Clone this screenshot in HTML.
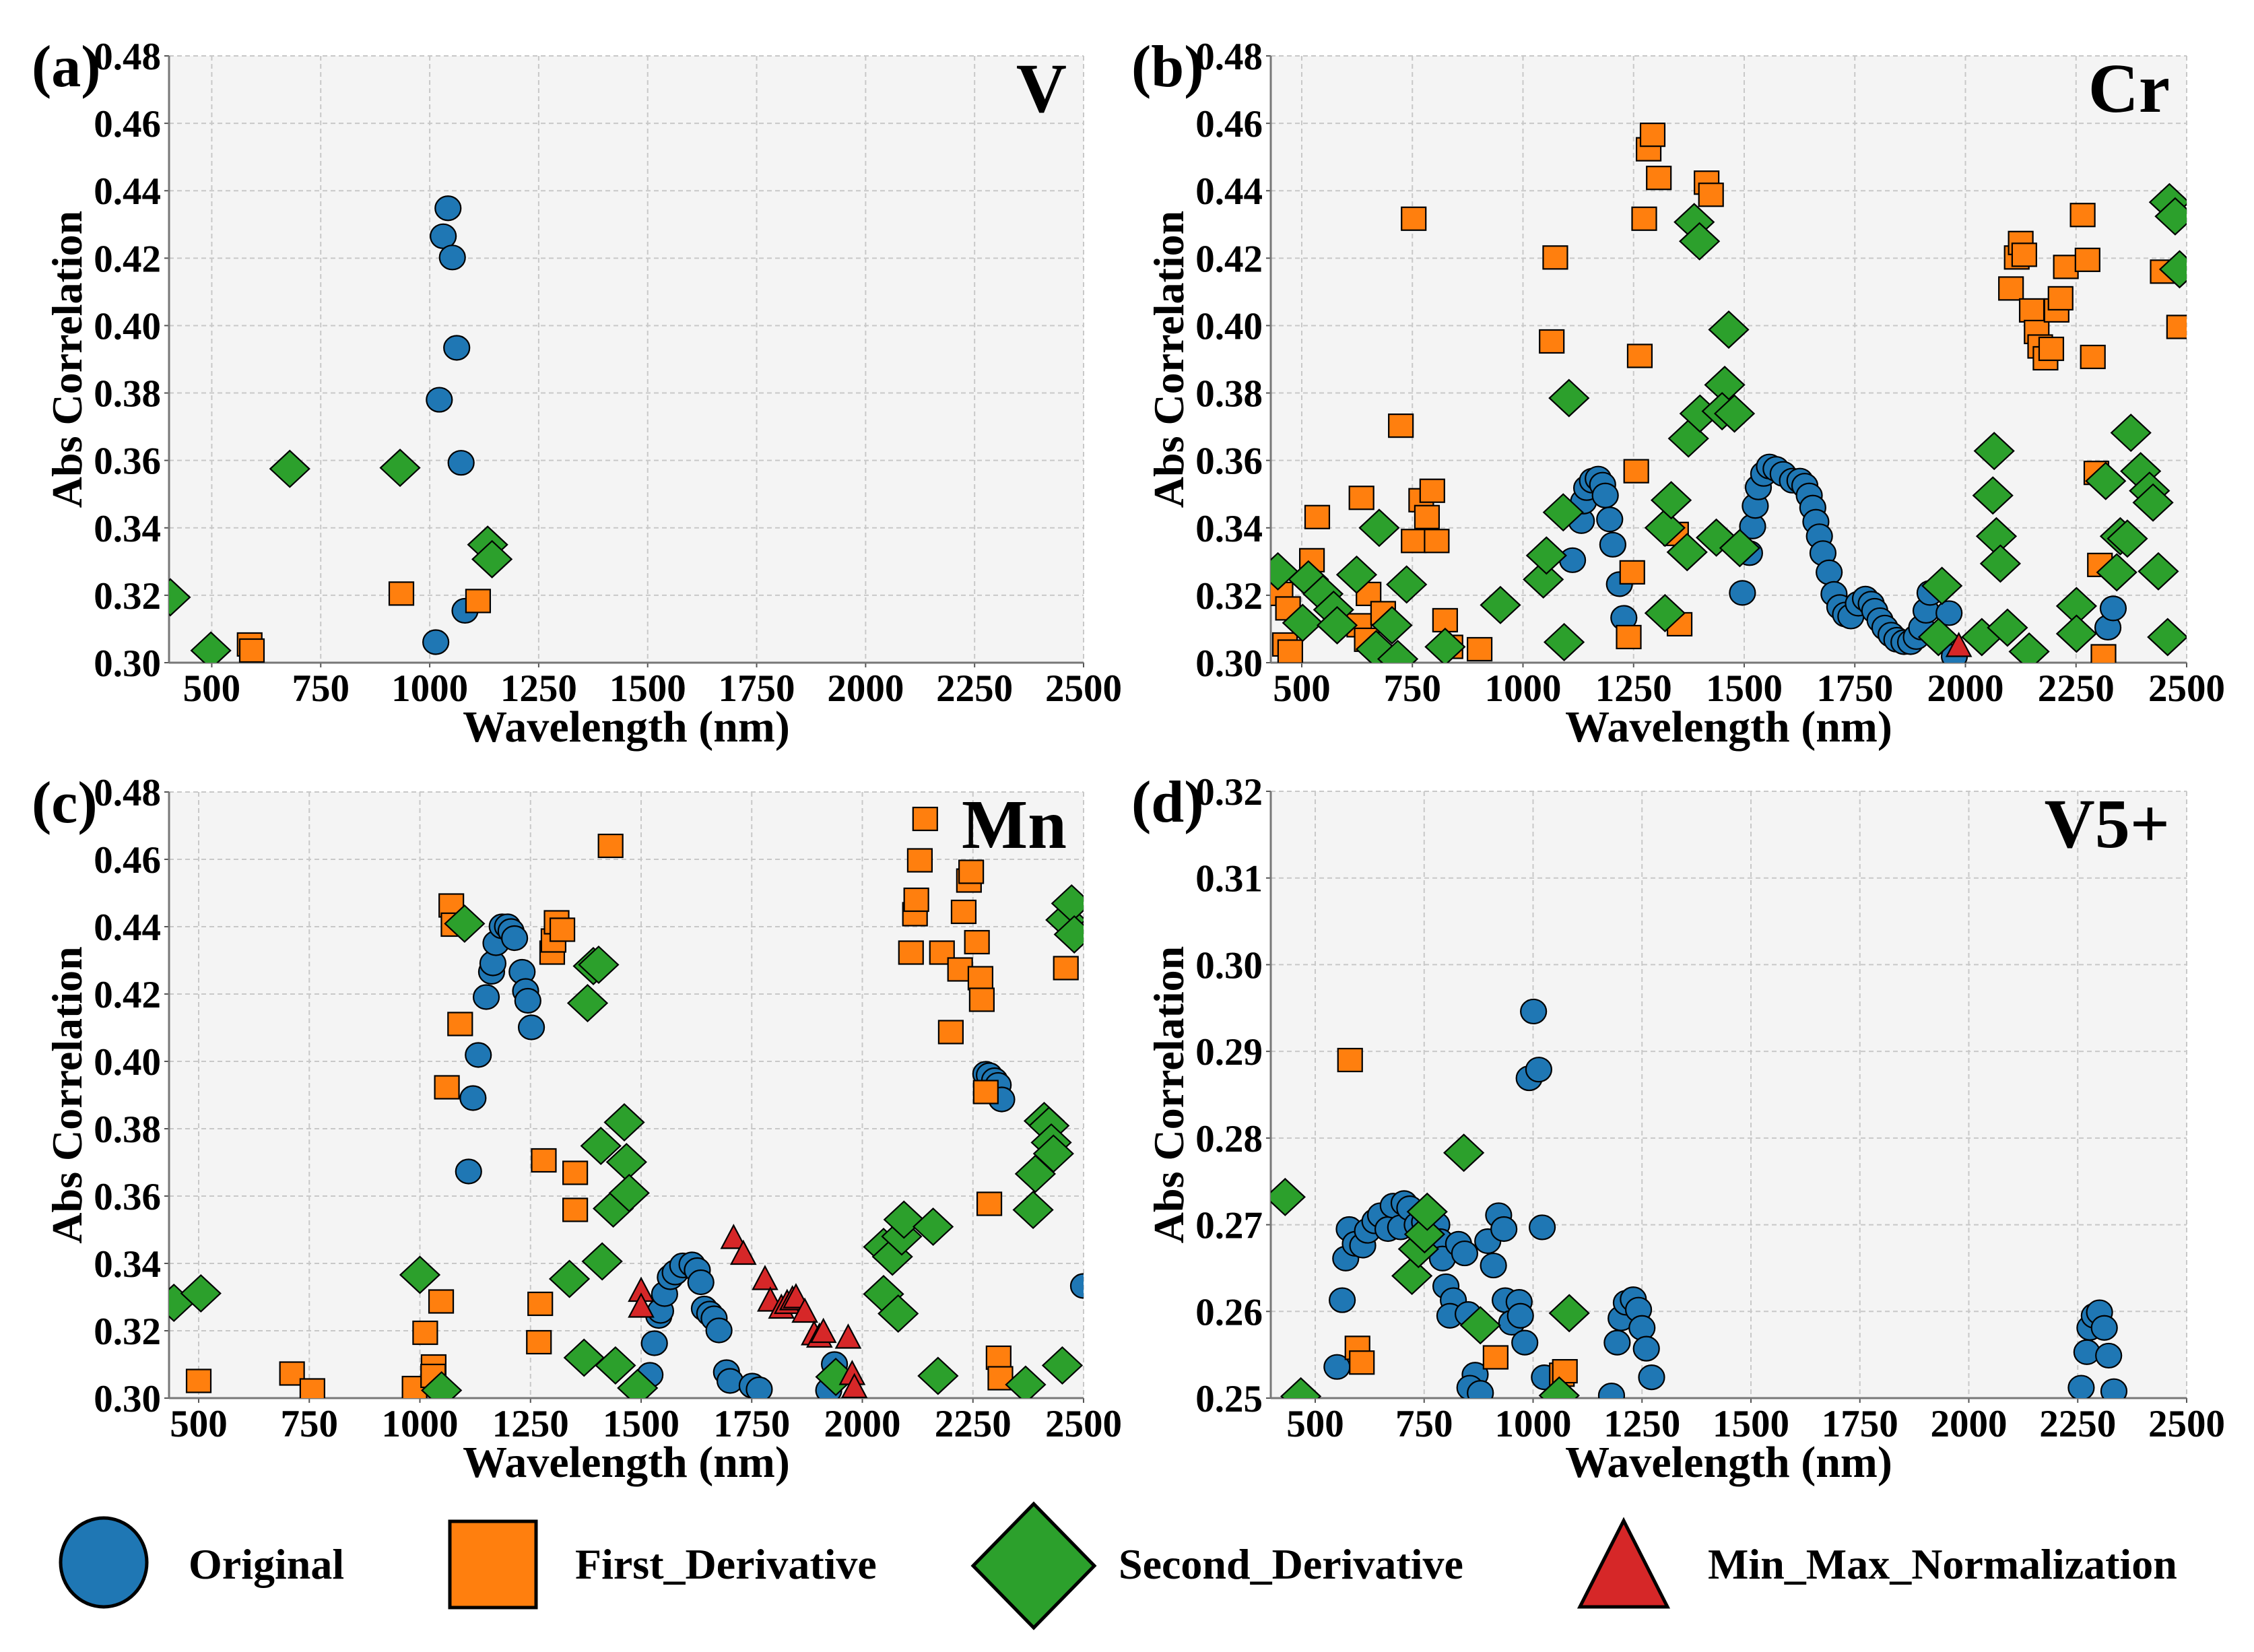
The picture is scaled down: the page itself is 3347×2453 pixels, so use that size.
<!DOCTYPE html>
<html><head><meta charset="utf-8"><style>
html,body{margin:0;padding:0;background:#fff;}
svg{display:block;}
svg text{font-family:"Liberation Serif","DejaVu Serif",serif;font-weight:bold;fill:#000;}
</style></head><body>
<svg id="fig" width="3347" height="2453" viewBox="0 0 3347 2453" xmlns="http://www.w3.org/2000/svg"></svg>
<script>
// ---------- DATA: Panel (a) V ----------
const aOrigX=[1042,1031,1052,1062,1022,1072,1081,1014];
const aOrigY=[0.4348,0.4265,0.4202,0.3934,0.378,0.3593,0.3154,0.3061];
const aFirstX=[935,1111,587,592];
const aFirstY=[0.3205,0.3183,0.3054,0.3036];
const aSecondX=[405,498,679,932,1133,1143];
const aSecondY=[0.3194,0.3036,0.3575,0.3578,0.335,0.3307];
const aMinMaxX=[];
const aMinMaxY=[];
// ---------- DATA: Panel (b) Cr ----------
const bOrigX=[1112,1132,1137,1144,1157,1170,1180,1186,1196,1203,1218,1228,1496,1512,1519,1525,1532,1544,1557,1572,1588,1609,1626,1637,1647,1655,1662,1670,1678,1692,1703,1716,1729,1741,1758,1774,1787,1795,1807,1818,1832,1845,1861,1876,1889,1901,1911,1920,1947,1963,1975,2322,2334];
const bOrigY=[0.3304,0.342,0.3478,0.3518,0.354,0.3546,0.3528,0.3496,0.3425,0.335,0.3233,0.3133,0.3207,0.3325,0.3404,0.3465,0.352,0.356,0.3582,0.3575,0.356,0.354,0.354,0.3525,0.3496,0.346,0.3418,0.3375,0.3325,0.3268,0.3204,0.3165,0.3143,0.3137,0.3175,0.319,0.3175,0.3154,0.3126,0.3104,0.3083,0.3068,0.3061,0.3061,0.3076,0.3104,0.3154,0.3207,0.3228,0.3147,0.3019,0.3104,0.3161];
const bFirstX=[452,469,462,474,523,535,630,635,651,647,684,724,753,753,770,783,795,805,824,836,902,1065,1073,1247,1256,1239,1264,1274,1284,1293,1307,1346,1354,1415,1425,2103,2116,2125,2133,2150,2161,2169,2181,2194,2206,2215,2227,2265,2276,2288,2296,2304,2312,2446,2483];
const bFirstY=[0.3204,0.3161,0.3054,0.3033,0.3304,0.3432,0.3111,0.3489,0.3204,0.3068,0.3147,0.3703,0.4317,0.3361,0.3482,0.3432,0.351,0.3361,0.3126,0.3047,0.304,0.3953,0.4202,0.3268,0.3568,0.3076,0.391,0.4317,0.4523,0.4566,0.4438,0.3382,0.3114,0.4424,0.4388,0.411,0.4202,0.4245,0.421,0.4045,0.3981,0.3938,0.3903,0.3931,0.4045,0.4081,0.4174,0.4328,0.4195,0.3907,0.3563,0.329,0.3019,0.416,0.3996];
const bSecondX=[446,515,502,548,572,580,624,675,668,704,717,737,824,949,1046,1053,1091,1104,1093,1321,1335,1321,1371,1374,1400,1387,1399,1437,1456,1465,1450,1478,1490,1939,1947,2037,2062,2065,2070,2079,2095,2144,2251,2251,2342,2317,2350,2366,2374,2396,2416,2424,2436,2457,2461,2474,2484];
const bSecondY=[0.3271,0.3247,0.3118,0.3204,0.3157,0.3111,0.3261,0.34,0.304,0.3111,0.3011,0.3232,0.3047,0.3171,0.3247,0.3318,0.3446,0.3785,0.3061,0.34,0.3482,0.3147,0.3328,0.3665,0.3739,0.4307,0.425,0.3371,0.3824,0.3988,0.3746,0.3739,0.334,0.3076,0.3228,0.3076,0.3496,0.3628,0.3375,0.3294,0.3104,0.3033,0.3168,0.3086,0.3268,0.3539,0.3375,0.3368,0.3682,0.3568,0.351,0.3475,0.3271,0.3076,0.4366,0.4324,0.4167];
const bMinMaxX=[1985];
const bMinMaxY=[0.3047];
// ---------- DATA: Panel (c) Mn ----------
const cOrigX=[2500,1110,1120,1132,1150,1162,1165,1172,1186,1198,1206,1214,1231,1239,1244,1252,1520,1530,1540,1544,1553,1566,1577,1594,1615,1627,1635,1643,1655,1665,1676,1693,1701,1751,1767,1924,1937,2279,2287,2299,2307,2315];
const cOrigY=[0.3333,0.3673,0.3891,0.4019,0.4191,0.4266,0.4291,0.4351,0.4401,0.4401,0.4387,0.4366,0.4266,0.4209,0.418,0.4101,0.3069,0.3163,0.3244,0.3259,0.3309,0.3359,0.3373,0.3394,0.3397,0.338,0.3344,0.3266,0.3251,0.3237,0.3201,0.3077,0.3051,0.3037,0.3026,0.3023,0.3101,0.3963,0.3959,0.3944,0.393,0.3887];
const cFirstX=[500,711,757,988,1031,1030,1012,1048,1061,1071,1076,1091,1269,1272,1280,1299,1302,1309,1322,1351,1351,1431,2110,2119,2122,2130,2142,2180,2200,2221,2229,2241,2246,2259,2267,2270,2279,2287,2308,2312,2460];
const cFirstY=[0.3051,0.3073,0.3023,0.303,0.3094,0.3066,0.3194,0.3287,0.3923,0.4463,0.4406,0.4111,0.3166,0.328,0.3706,0.4323,0.4359,0.4413,0.4391,0.3669,0.3559,0.464,0.4323,0.4437,0.448,0.4597,0.472,0.4323,0.4087,0.4273,0.4444,0.4537,0.4563,0.4354,0.4247,0.4183,0.3909,0.3577,0.312,0.3059,0.4277];
const cSecondX=[444,505,1000,1049,1101,1338,1371,1379,1392,1404,1409,1412,1437,1442,1462,1467,1473,1492,1940,2048,2048,2068,2081,2089,2094,2160,2171,2369,2386,2391,2411,2422,2427,2432,2452,2460,2473,2479];
const cSecondY=[0.3283,0.3311,0.3366,0.3023,0.4409,0.3354,0.312,0.4173,0.4283,0.4287,0.3749,0.3406,0.3563,0.3097,0.3819,0.3701,0.3609,0.303,0.3063,0.3449,0.3309,0.342,0.3251,0.348,0.353,0.3509,0.3066,0.304,0.3559,0.3666,0.3823,0.3809,0.3759,0.3726,0.3097,0.442,0.4469,0.4377];
const cMinMaxX=[1500,1500,1709,1731,1780,1792,1817,1830,1842,1850,1870,1891,1903,1912,1968,1977,1982];
const cMinMaxY=[0.3316,0.3269,0.3473,0.3426,0.3351,0.3287,0.3266,0.328,0.3291,0.3297,0.3254,0.3187,0.318,0.3194,0.3177,0.3069,0.303];
// ---------- DATA: Panel (d) V5+ ----------
const dOrigX=[550,562,570,578,592,609,620,637,650,667,679,696,704,717,734,751,779,787,792,800,817,809,829,843,851,867,855,879,896,909,921,933,936,951,968,971,981,991,1001,1013,1021,1026,1180,1193,1202,1214,1230,1242,1250,1260,1272,2258,2271,2278,2288,2300,2311,2321,2333];
const dOrigY=[0.2536,0.2613,0.2661,0.2695,0.2678,0.2676,0.2693,0.2704,0.2711,0.2695,0.2722,0.2697,0.2725,0.2719,0.27,0.2703,0.27,0.2681,0.2661,0.2629,0.2613,0.2595,0.2678,0.2667,0.2597,0.2527,0.2512,0.2506,0.2681,0.2653,0.2711,0.2695,0.2613,0.2587,0.2611,0.2595,0.2564,0.2869,0.2946,0.2879,0.2697,0.2524,0.2503,0.2564,0.2592,0.261,0.2614,0.2602,0.2581,0.2557,0.2524,0.2512,0.2553,0.2581,0.2595,0.2599,0.2581,0.2549,0.2508];
const dFirstX=[580,597,607,914,1066,1073];
const dFirstY=[0.289,0.2558,0.2541,0.2547,0.2527,0.2531];
const dSecondX=[431,467,722,737,751,757,841,879,1060,1083];
const dSecondY=[0.2732,0.2502,0.2641,0.2672,0.2689,0.2715,0.2783,0.2584,0.2503,0.2598];
const dMinMaxX=[];
const dMinMaxY=[];
// ---------- tick labels ----------
const xTicks=[500,750,1000,1250,1500,1750,2000,2250,2500];
const yTicksMain=[0.30,0.32,0.34,0.36,0.38,0.40,0.42,0.44,0.46,0.48];
const yTicksV5=[0.25,0.26,0.27,0.28,0.29,0.30,0.31,0.32];

const NS='http://www.w3.org/2000/svg';
const FONT='Liberation Serif, DejaVu Serif, serif';
const svg=document.getElementById('fig');
function mk(tag,attrs,parent){const e=document.createElementNS(NS,tag);for(const k in attrs)e.setAttribute(k,attrs[k]);if(tag==='text'){e.setAttribute('font-family',FONT);e.setAttribute('font-weight','bold');}(parent||svg).appendChild(e);return e;}

const COLORS={orig:'#1f77b4',first:'#ff7f0e',second:'#2ca02c',minmax:'#d62728'};

function marker(kind,cx,cy,g,s){
  s=s||1;let e;
  if(kind==='orig'){e=mk('ellipse',{cx:cx,cy:cy,rx:19*s,ry:18*s},g);}
  else if(kind==='first'){e=mk('rect',{x:cx-18*s,y:cy-17*s,width:36*s,height:34*s},g);}
  else if(kind==='second'){e=mk('polygon',{points:`${cx},${cy-27*s} ${cx+29*s},${cy} ${cx},${cy+27*s} ${cx-29*s},${cy}`},g);}
  else {e=mk('polygon',{points:`${cx},${cy-20*s} ${cx+18*s},${cy+14*s} ${cx-18*s},${cy+14*s}`},g);}
  e.setAttribute('fill',COLORS[kind]);e.setAttribute('stroke','#000');e.setAttribute('stroke-width',2.2);
  return e;
}

const panels=[
 {id:'a',letter:'(a)',el:'V',x0:251,x1:1609,y0:83,y1:984,xmin:402,ymin:0.30,ymax:0.48,yt:yTicksMain,lx:47,
  series:[['orig',aOrigX,aOrigY],['first',aFirstX,aFirstY],['second',aSecondX,aSecondY],['minmax',aMinMaxX,aMinMaxY]]},
 {id:'b',letter:'(b)',el:'Cr',x0:1887,x1:3247,y0:83,y1:984,xmin:430,ymin:0.30,ymax:0.48,yt:yTicksMain,lx:1680,
  series:[['orig',bOrigX,bOrigY],['first',bFirstX,bFirstY],['second',bSecondX,bSecondY],['minmax',bMinMaxX,bMinMaxY]]},
 {id:'c',letter:'(c)',el:'Mn',x0:251,x1:1609,y0:1176,y1:2076,xmin:433,ymin:0.30,ymax:0.48,yt:yTicksMain,lx:47,
  series:[['orig',cOrigX,cOrigY],['first',cFirstX,cFirstY],['second',cSecondX,cSecondY],['minmax',cMinMaxX,cMinMaxY]]},
 {id:'d',letter:'(d)',el:'V5+',x0:1887,x1:3247,y0:1175,y1:2076,xmin:398,ymin:0.25,ymax:0.32,yt:yTicksV5,lx:1680,
  series:[['orig',dOrigX,dOrigY],['first',dFirstX,dFirstY],['second',dSecondX,dSecondY],['minmax',dMinMaxX,dMinMaxY]]}
];

panels.forEach(p=>{
  const X=v=>p.x0+(v-p.xmin)/(2500-p.xmin)*(p.x1-p.x0);
  const Y=v=>p.y1-(v-p.ymin)/(p.ymax-p.ymin)*(p.y1-p.y0);
  const g=mk('g',{});
  
  
  const bg=mk('rect',{x:p.x0,y:p.y0,width:p.x1-p.x0,height:p.y1-p.y0,fill:'#f4f4f4'},g);
  
  
  const cp=mk('clipPath',{id:'clip'+p.id},g);
  mk('rect',{x:p.x0,y:p.y0,width:p.x1-p.x0,height:p.y1-p.y0},cp);
  xTicks.forEach(t=>{const x=X(t);
    const l=mk('line',{x1:x,y1:p.y0,x2:x,y2:p.y1,stroke:'#c8c8c8','stroke-width':2,'stroke-dasharray':'7,5'},g);
    
    
    mk('line',{x1:x,y1:p.y1,x2:x,y2:p.y1+7,stroke:'#555','stroke-width':2},g);
    const tx=mk('text',{x:x,y:p.y1+57,'text-anchor':'middle','font-size':57},g);tx.textContent=t;
    
    
  });
  p.yt.forEach(t=>{const y=Y(t);
    const l=mk('line',{x1:p.x0,y1:y,x2:p.x1,y2:y,stroke:'#c8c8c8','stroke-width':2,'stroke-dasharray':'7,5'},g);
    
    
    mk('line',{x1:p.x0-7,y1:y,x2:p.x0,y2:y,stroke:'#555','stroke-width':2},g);
    const tx=mk('text',{x:p.x0-12,y:y+20,'text-anchor':'end','font-size':57},g);tx.textContent=t.toFixed(2);
    
    
  });
  mk('line',{x1:p.x0,y1:p.y0,x2:p.x0,y2:p.y1,stroke:'#777','stroke-width':3},g);
  mk('line',{x1:p.x0,y1:p.y1,x2:p.x1,y2:p.y1,stroke:'#777','stroke-width':3},g);
  const mg=mk('g',{'clip-path':'url(#clip'+p.id+')'},g);
  
  
  p.series.forEach(s=>{const [kind,xs,ys]=s;
    for(let i=0;i<xs.length;i++){const m=marker(kind,X(xs[i]),Y(ys[i]),mg);
      
      }
  });
  const xl=mk('text',{x:(p.x0+p.x1)/2,y:p.y1+117,'text-anchor':'middle','font-size':66},g);xl.textContent='Wavelength (nm)';
  
  
  const yc=(p.y0+p.y1)/2, yx=p.x0-130;
  const yl=mk('text',{x:yx,y:yc,'text-anchor':'middle','font-size':64,transform:`rotate(-90 ${yx} ${yc})`},g);yl.textContent='Abs Correlation';
  
  
  const pl=mk('text',{x:p.lx,y:p.y0+45,'font-size':88},g);pl.textContent=p.letter;
  
  
  const el=mk('text',{x:p.x1-25,y:p.y0+83,'text-anchor':'end','font-size':104},g);el.textContent=p.el;
  
  
});

const lg=mk('g',{});


const legendItems=[['orig','Original',154,2320,280],['first','First_Derivative',732,2322,854],['second','Second_Derivative',1535,2325,1661],['minmax','Min_Max_Normalization',2411,2322,2536]];
legendItems.forEach(it=>{
  const [kind,label,cx,cy,tx]=it;
  let e;
  if(kind==='orig') e=mk('ellipse',{cx:cx,cy:cy,rx:64,ry:66},lg);
  else if(kind==='first') e=mk('rect',{x:cx-64,y:cy-63,width:128,height:128},lg);
  else if(kind==='second') e=mk('polygon',{points:`${cx},${cy-92} ${cx+90},${cy} ${cx},${cy+92} ${cx-90},${cy}`},lg);
  else e=mk('polygon',{points:`${cx},${cy-64} ${cx+65},${cy+64} ${cx-65},${cy+64}`},lg);
  e.setAttribute('fill',COLORS[kind]);e.setAttribute('stroke','#000');e.setAttribute('stroke-width',5);
  
  
  const t=mk('text',{x:tx,y:2344,'font-size':64},lg);t.textContent=label;
  
  
});
</script>
</body></html>
